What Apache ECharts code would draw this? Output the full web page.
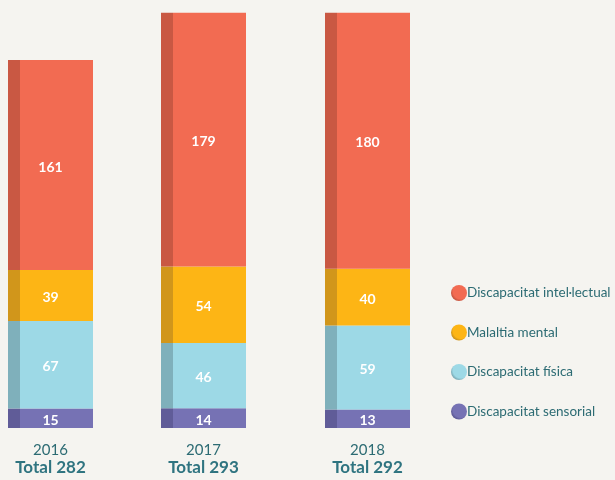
<!DOCTYPE html>
<html lang="ca">
<head>
  <meta charset="UTF-8">
  <title>Discapacitat</title>
  <style>
    * { margin: 0; padding: 0; }
    body { background-color: #F5F4F0; }
    .chart { width: 615px; height: 480px; }
  </style>
</head>
<body>
  <div class="chart"></div>
  <script src="https://cdn.jsdelivr.net/npm/echarts@6/dist/echarts.min.js"></script>
  <script>
    var years = ['2016', '2017', '2018']
    var totals = [282, 293, 292]
    var intel = [161, 179, 180]
    var mental = [39, 54, 40]
    var fisica = [67, 46, 59]
    var sensorial = [15, 14, 13]
    var names = ['Discapacitat intel·lectual', 'Malaltia mental', 'Discapacitat física', 'Discapacitat sensorial']
    // the original bars are not drawn to one scale, so every year gets its own axis
    var axisMax = [328, 302, 301]

    var lights = ['#F26B52', '#FDB515', '#9DD9E6', '#7672B4']
    var darks = ['#C95843', '#D1961B', '#7FB0BB', '#605C98']
    var gridLeft = [8, 161, 325]
    var textColor = '#2C6B73'

    function faceColor(i) {
      // dark strip on the left side gives the bars their 3d look
      return new echarts.graphic.LinearGradient(0, 0, 1, 0, [
        { offset: 0, color: darks[i] },
        { offset: 0.14, color: darks[i] },
        { offset: 0.14, color: lights[i] },
        { offset: 1, color: lights[i] }
      ])
    }

    function dotColor(i) {
      return new echarts.graphic.RadialGradient(0.62, 0.38, 0.62, [
        { offset: 0, color: lights[i] },
        { offset: 0.8, color: lights[i] },
        { offset: 1, color: darks[i] }
      ])
    }

    var grids = [], xAxes = [], yAxes = [], series = []
    var groups = [sensorial, fisica, mental, intel]
    var groupIdx = [3, 2, 1, 0]

    years.forEach(function (y, k) {
      grids.push({ left: gridLeft[k], width: 85, top: 0, bottom: 52 })
      xAxes.push({
        gridIndex: k,
        type: 'category',
        data: [y],
        axisLine: { show: false },
        axisTick: { show: false },
        axisLabel: {
          margin: 13,
          formatter: function (v) { return '{y|' + v + '}\n{t|Total ' + totals[k] + '}' },
          rich: {
            y: { fontFamily: 'Lato', fontSize: 15, color: textColor, lineHeight: 18 },
            t: { fontFamily: 'Lato', fontSize: 17, fontWeight: 'bold', color: '#2F7480', lineHeight: 18 }
          }
        }
      })
      yAxes.push({ gridIndex: k, type: 'value', min: 0, max: axisMax[k], show: false, splitLine: { show: false } })
      groups.forEach(function (arr, g) {
        var i = groupIdx[g]
        series.push({
          name: names[i],
          type: 'bar',
          xAxisIndex: k,
          yAxisIndex: k,
          stack: 'y' + k,
          barWidth: 85,
          data: [arr[k]],
          itemStyle: { color: faceColor(i) },
          label: {
            show: true,
            position: 'inside',
            offset: [0, 2],
            color: '#fff',
            fontFamily: 'Lato',
            fontWeight: 'bold',
            fontSize: 14
          },
          emphasis: { disabled: true }
        })
      })
    })

    var myChart = echarts.init(document.querySelector('.chart'))
    var option = {
      backgroundColor: '#F5F4F0',
      animation: false,
      grid: grids,
      xAxis: xAxes,
      yAxis: yAxes,
      legend: {
        orient: 'vertical',
        left: 446,
        top: 280,
        itemWidth: 16,
        itemHeight: 16,
        itemGap: 23.5,
        icon: 'circle',
        selectedMode: false,
        textStyle: { fontFamily: 'Lato', fontSize: 13.5, color: textColor, padding: [0, 0, 0, -5] },
        data: names.map(function (n, i) {
          return { name: n, itemStyle: { color: dotColor(i) } }
        })
      },
      series: series
    }
    myChart.setOption(option)
  </script>
</body>
</html>
